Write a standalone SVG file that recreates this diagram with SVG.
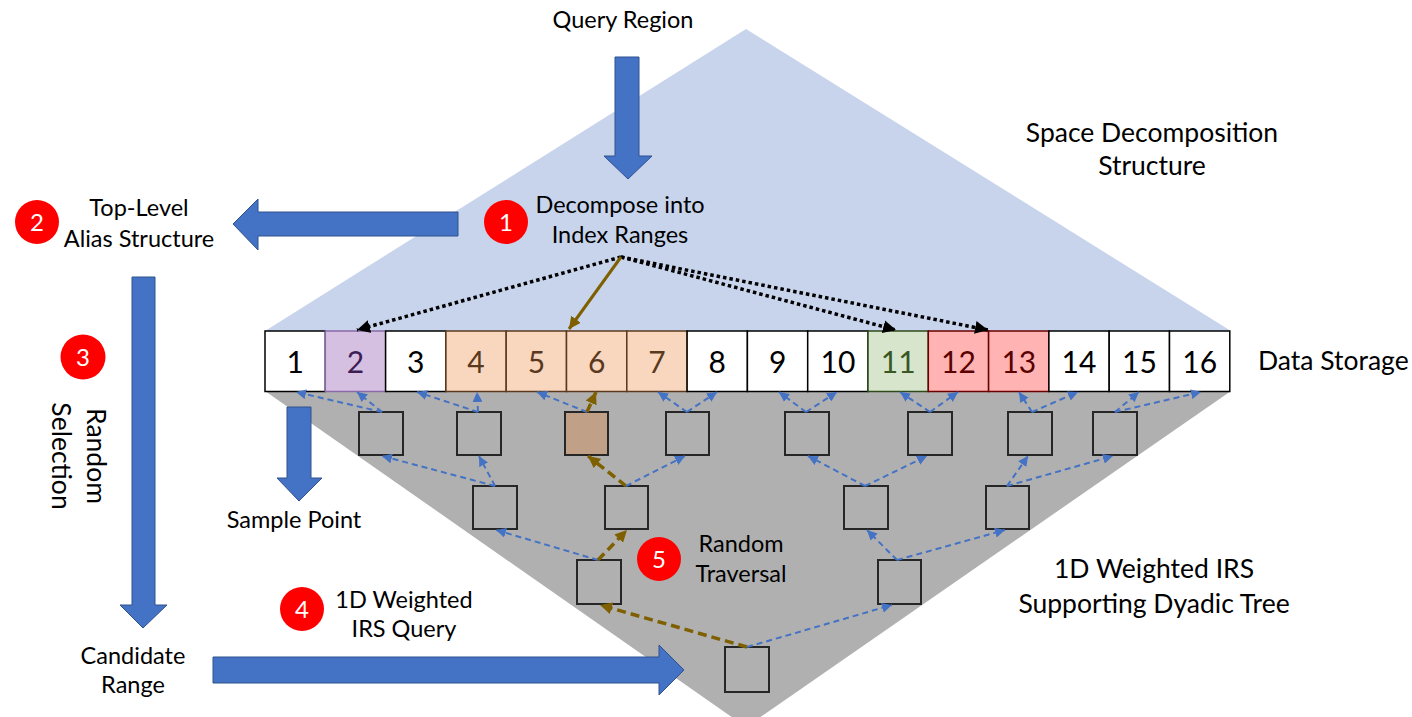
<svg xmlns="http://www.w3.org/2000/svg" width="1412" height="717" viewBox="0 0 1412 717">
  <style>
    text { font-family: Lato, "Liberation Sans", sans-serif; fill: #000; }
    .lbl { font-size: 23.5px; text-anchor: middle; }
    .big { font-size: 26.5px; text-anchor: middle; }
    .num { font-size: 30px; text-anchor: middle; }
    .badge circle { fill: #FF0000; }
    .badge text { font-size: 24px; fill: #fff; text-anchor: middle; }
    .block { fill: #4472C4; stroke: #2F528F; stroke-width: 1; }
    .cell { stroke: #000; stroke-width: 1.5; fill: #fff; }
    .tn { fill: #B0B0B0; stroke: #262626; stroke-width: 2; }
    .blue { stroke: #4472C4; stroke-width: 2; stroke-dasharray: 6 4; fill: none; marker-end: url(#ahBlue); }
    .brown { stroke: #7F6000; stroke-width: 3.5; stroke-dasharray: 9 5; fill: none; marker-end: url(#ahBrown); }
    .dots { stroke: #000; stroke-width: 3.5; stroke-dasharray: 3.5 3; fill: none; marker-end: url(#ahBlack); }
  </style>
  <defs>
    <marker id="ahBlue" markerUnits="userSpaceOnUse" viewBox="0 0 10 10" refX="10" refY="5" markerWidth="10" markerHeight="10" orient="auto">
      <path d="M0,0 L10,5 L0,10 z" fill="#4472C4"/>
    </marker>
    <marker id="ahBrown" markerUnits="userSpaceOnUse" viewBox="0 0 10 10" refX="10" refY="5" markerWidth="12" markerHeight="12" orient="auto">
      <path d="M0,0 L10,5 L0,10 z" fill="#7F6000"/>
    </marker>
    <marker id="ahBlack" markerUnits="userSpaceOnUse" viewBox="0 0 10 10" refX="10" refY="5" markerWidth="13" markerHeight="13" orient="auto">
      <path d="M0,0 L10,5 L0,10 z" fill="#000"/>
    </marker>
  </defs>

  <!-- background regions -->
  <polygon id="space-decomposition" points="746,29 1231,331 265,331" fill="#C7D4EC"/>
  <polygon id="dyadic-tree-area" points="265,391 1231,391 746,727" fill="#B0B0B0"/>

  <!-- block arrows -->
  <g id="block-arrows">
    <polygon class="block" points="615,57 639,57 639,156 652,156 628,179 604,156 615,156"/>
    <polygon class="block" points="458,212 458,236 258,236 258,250 233,224 258,199 258,212"/>
    <polygon class="block" points="132,277 155,277 155,605 167,605 143,628 120,605 132,605"/>
    <polygon class="block" points="213,657 659,657 659,645 684,670 659,695 659,683 213,683"/>
    <polygon class="block" points="287,407 311,407 311,478 322,478 299,501 277,478 287,478"/>
  </g>

  <!-- data storage cells -->
  <g id="data-storage">
    <rect class="cell" x="265" y="331" width="60.3" height="60.5"/>
    <rect class="cell" x="325.3" y="331" width="60.3" height="60.5" style="fill:#D5C0E1;stroke:#8A6AA8"/>
    <rect class="cell" x="385.6" y="331" width="60.3" height="60.5"/>
    <rect class="cell" x="445.9" y="331" width="60.3" height="60.5" style="fill:#F9D6BE;stroke:#5A3A1E"/>
    <rect class="cell" x="506.2" y="331" width="60.3" height="60.5" style="fill:#F9D6BE;stroke:#5A3A1E"/>
    <rect class="cell" x="566.5" y="331" width="60.3" height="60.5" style="fill:#F9D6BE;stroke:#5A3A1E"/>
    <rect class="cell" x="626.8" y="331" width="60.3" height="60.5" style="fill:#F9D6BE;stroke:#5A3A1E"/>
    <rect class="cell" x="687.1" y="331" width="60.3" height="60.5"/>
    <rect class="cell" x="747.4" y="331" width="60.3" height="60.5"/>
    <rect class="cell" x="807.7" y="331" width="60.3" height="60.5"/>
    <rect class="cell" x="868" y="331" width="60.3" height="60.5" style="fill:#D6E5CB;stroke:#2E4A1A"/>
    <rect class="cell" x="928.3" y="331" width="60.3" height="60.5" style="fill:#FFB3B3;stroke:#6A0000"/>
    <rect class="cell" x="988.6" y="331" width="60.3" height="60.5" style="fill:#FFB3B3;stroke:#6A0000"/>
    <rect class="cell" x="1048.9" y="331" width="60.3" height="60.5"/>
    <rect class="cell" x="1109.2" y="331" width="60.3" height="60.5"/>
    <rect class="cell" x="1169.5" y="331" width="60.3" height="60.5"/>
    <text class="num" x="295.2" y="373">1</text>
    <text class="num" x="355.5" y="373" style="fill:#3E1D56">2</text>
    <text class="num" x="415.8" y="373">3</text>
    <text class="num" x="476" y="373" style="fill:#5A3A1E">4</text>
    <text class="num" x="536.4" y="373" style="fill:#5A3A1E">5</text>
    <text class="num" x="596.7" y="373" style="fill:#5A3A1E">6</text>
    <text class="num" x="657" y="373" style="fill:#5A3A1E">7</text>
    <text class="num" x="717.3" y="373">8</text>
    <text class="num" x="777.6" y="373">9</text>
    <text class="num" x="837.9" y="373">10</text>
    <text class="num" x="898.2" y="373" style="fill:#385723">11</text>
    <text class="num" x="958.5" y="373" style="fill:#5A0000">12</text>
    <text class="num" x="1018.8" y="373" style="fill:#5A0000">13</text>
    <text class="num" x="1079" y="373">14</text>
    <text class="num" x="1139.4" y="373">15</text>
    <text class="num" x="1199.7" y="373">16</text>
  </g>

  <!-- dyadic tree nodes -->
  <g id="tree-level-1">
    <rect class="tn" x="359" y="412" width="44" height="43"/>
    <rect class="tn" x="457" y="412" width="44" height="43"/>
    <rect class="tn" x="565" y="412" width="43" height="43" style="fill:#C1A088"/>
    <rect class="tn" x="666" y="412" width="43" height="43"/>
    <rect class="tn" x="785" y="412" width="44" height="43"/>
    <rect class="tn" x="908" y="412" width="44" height="43"/>
    <rect class="tn" x="1008" y="412" width="44" height="43"/>
    <rect class="tn" x="1093" y="412" width="44" height="43"/>
  </g>
  <g id="tree-level-2">
    <rect class="tn" x="473" y="486" width="44" height="43"/>
    <rect class="tn" x="605" y="486" width="43" height="43"/>
    <rect class="tn" x="844" y="486" width="44" height="43"/>
    <rect class="tn" x="986" y="486" width="43" height="43"/>
  </g>
  <g id="tree-level-3">
    <rect class="tn" x="577" y="560" width="44" height="44"/>
    <rect class="tn" x="878" y="560" width="43" height="44"/>
  </g>
  <g id="tree-root">
    <rect class="tn" x="725" y="647" width="44" height="45"/>
  </g>

  <!-- connectors -->
  <g id="connectors">
    <!-- level 1 to storage -->
    <line class="blue" x1="382" y1="412" x2="296" y2="392"/>
    <line class="blue" x1="382" y1="412" x2="357" y2="392"/>
    <line class="blue" x1="478" y1="412" x2="417" y2="392"/>
    <line class="blue" x1="478" y1="412" x2="477" y2="392"/>
    <line class="blue" x1="587" y1="412" x2="537" y2="392"/>
    <line class="brown" x1="587" y1="412" x2="596" y2="392"/>
    <line class="blue" x1="687" y1="412" x2="658" y2="392"/>
    <line class="blue" x1="687" y1="412" x2="717" y2="392"/>
    <line class="blue" x1="806" y1="412" x2="779" y2="392"/>
    <line class="blue" x1="806" y1="412" x2="837" y2="392"/>
    <line class="blue" x1="930" y1="412" x2="900" y2="392"/>
    <line class="blue" x1="930" y1="412" x2="958" y2="392"/>
    <line class="blue" x1="1032" y1="412" x2="1019" y2="392"/>
    <line class="blue" x1="1032" y1="412" x2="1078" y2="392"/>
    <line class="blue" x1="1115" y1="412" x2="1139" y2="392"/>
    <line class="blue" x1="1115" y1="412" x2="1201" y2="392"/>
    <!-- level 2 to level 1 -->
    <line class="blue" x1="495" y1="486" x2="382" y2="456"/>
    <line class="blue" x1="495" y1="486" x2="479" y2="456"/>
    <line class="brown" x1="626" y1="486" x2="588" y2="456"/>
    <line class="blue" x1="626" y1="486" x2="685" y2="456"/>
    <line class="blue" x1="865" y1="486" x2="808" y2="456"/>
    <line class="blue" x1="865" y1="486" x2="927" y2="456"/>
    <line class="blue" x1="1007" y1="486" x2="1028" y2="456"/>
    <line class="blue" x1="1007" y1="486" x2="1113" y2="456"/>
    <!-- level 3 to level 2 -->
    <line class="blue" x1="598" y1="560" x2="496" y2="530"/>
    <line class="brown" x1="598" y1="560" x2="627" y2="530"/>
    <line class="blue" x1="897" y1="560" x2="867" y2="530"/>
    <line class="blue" x1="897" y1="560" x2="1005" y2="530"/>
    <!-- root to level 3 -->
    <line class="brown" x1="747" y1="647" x2="600" y2="605"/>
    <line class="blue" x1="747" y1="647" x2="892" y2="605"/>
    <!-- decomposition into index ranges -->
    <line class="dots" x1="621" y1="257" x2="357" y2="330"/>
    <line class="dots" x1="621" y1="257" x2="896" y2="330"/>
    <line class="dots" x1="621" y1="257" x2="988" y2="330"/>
    <line x1="621" y1="257" x2="569" y2="329" stroke="#7F6000" stroke-width="3" marker-end="url(#ahBrown)"/>
  </g>

  <!-- labels -->
  <g id="labels">
    <text class="lbl" x="623" y="28">Query Region</text>
    <text class="lbl" x="620" y="213">Decompose into</text>
    <text class="lbl" x="620" y="243">Index Ranges</text>
    <text class="big" x="1152" y="142">Space Decomposition</text>
    <text class="big" x="1152" y="175">Structure</text>
    <text class="lbl" x="139" y="216">Top-Level</text>
    <text class="lbl" x="139" y="247">Alias Structure</text>
    <g transform="translate(87,456) rotate(90)">
      <text class="big" x="0" y="0">Random</text>
      <text class="big" x="0" y="35">Selection</text>
    </g>
    <text class="lbl" x="294" y="528">Sample Point</text>
    <text class="lbl" x="133" y="664">Candidate</text>
    <text class="lbl" x="133" y="693">Range</text>
    <text class="lbl" x="404" y="608">1D Weighted</text>
    <text class="lbl" x="404" y="637">IRS Query</text>
    <text class="lbl" x="741" y="552">Random</text>
    <text class="lbl" x="741" y="582">Traversal</text>
    <text class="big" x="1154" y="578">1D Weighted IRS</text>
    <text class="big" x="1154" y="613">Supporting Dyadic Tree</text>
    <text class="big" x="1258" y="370" style="text-anchor:start">Data Storage</text>
  </g>

  <!-- step badges -->
  <g id="step-1" class="badge"><circle cx="506" cy="222" r="22"/><text x="506" y="231">1</text></g>
  <g id="step-2" class="badge"><circle cx="37" cy="222" r="22"/><text x="37" y="231">2</text></g>
  <g id="step-3" class="badge"><circle cx="83" cy="357" r="22.5"/><text x="83" y="366">3</text></g>
  <g id="step-4" class="badge"><circle cx="302" cy="609" r="22"/><text x="302" y="618">4</text></g>
  <g id="step-5" class="badge"><circle cx="659" cy="559" r="22"/><text x="659" y="568">5</text></g>
</svg>
